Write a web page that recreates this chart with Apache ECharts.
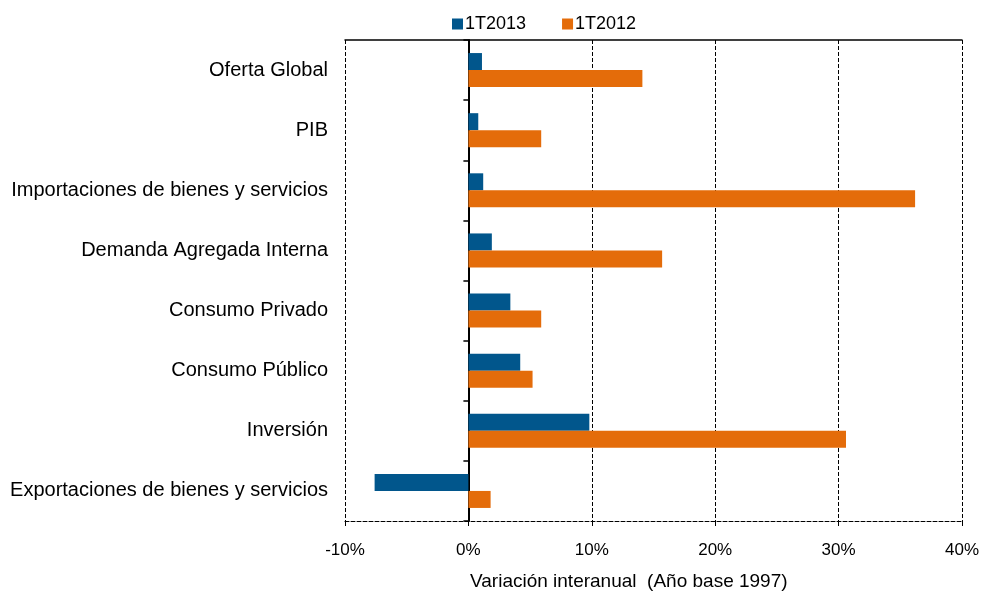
<!DOCTYPE html>
<html>
<head>
<meta charset="utf-8">
<script src="https://cdn.jsdelivr.net/npm/echarts@6/dist/echarts.min.js"></script>
<style>
  html, body { margin: 0; padding: 0; background: #fff; }
  #chart { width: 982px; height: 593px; }
</style>
</head>
<body>
<div id="chart"></div>
<script>
// categorias, de arriba hacia abajo
var categories = [
  "Oferta Global",
  "PIB",
  "Importaciones de bienes y servicios",
  "Demanda Agregada Interna",
  "Consumo Privado",
  "Consumo Público",
  "Inversión",
  "Exportaciones de bienes y servicios"
];
// variacion interanual en %
var serie2013 = [1.1, 0.8, 1.2, 1.9, 3.4, 4.2, 9.8, -7.6];
var serie2012 = [14.1, 5.9, 36.2, 15.7, 5.9, 5.2, 30.6, 1.8];
var xTicks = [-10, 0, 10, 20, 30, 40];

var font = "'Liberation Sans', Arial, sans-serif";
var chart = echarts.init(document.getElementById("chart"));

chart.setOption({
  animation: false,
  textStyle: { fontFamily: font },
  legend: {
    top: 10,
    left: 447,
    itemWidth: 11,
    itemHeight: 11,
    itemGap: 36,
    icon: "rect",
    textStyle: { fontSize: 18, color: "#000", fontFamily: font, padding: [0, 0, 0, -3] },
    data: ["1T2013", "1T2012"]
  },
  title: {
    text: "Variación interanual  (Año base 1997)",
    left: 465,
    top: 567,
    textStyle: { fontSize: 19, fontWeight: "normal", color: "#000", fontFamily: font }
  },
  grid: {
    left: 345,
    right: 20,
    top: 40,
    bottom: 72
  },
  xAxis: [
    {
      type: "value",
      min: xTicks[0],
      max: xTicks[xTicks.length - 1],
      interval: 10,
      axisLine: { show: true, onZero: false, lineStyle: { color: "#000", type: "dashed", width: 1 } },
      axisTick: { show: true, length: 5, lineStyle: { color: "#000" } },
      axisLabel: {
        fontSize: 17,
        color: "#000",
        margin: 21,
        fontFamily: font,
        formatter: function (v) { return v + "%"; }
      },
      splitLine: { show: true, lineStyle: { color: "#000", type: [4, 2], width: 1 } }
    },
    {
      type: "value",
      position: "top",
      min: xTicks[0],
      max: xTicks[xTicks.length - 1],
      interval: 10,
      axisLine: { show: true, onZero: false, lineStyle: { color: "#000", width: 1.5 } },
      axisTick: { show: false },
      axisLabel: { show: false },
      splitLine: { show: false }
    }
  ],
  yAxis: [
    {
      type: "category",
      inverse: true,
      data: categories,
      axisLine: { show: false, onZero: false },
      axisTick: { show: false },
      axisLabel: { fontSize: 20, color: "#000", margin: 17, padding: [10, 0, 0, 0], fontFamily: font },
      splitLine: { show: false }
    },
    {
      type: "category",
      inverse: true,
      position: "left",
      data: categories,
      axisLine: { show: true, onZero: true, lineStyle: { color: "#000", width: 2 } },
      axisTick: { show: true, length: 5, lineStyle: { color: "#000", width: 1.5 } },
      axisLabel: { show: false },
      splitLine: { show: false }
    }
  ],
  series: [
    {
      name: "1T2013",
      type: "bar",
      yAxisIndex: 0,
      data: serie2013,
      barWidth: 17,
      barGap: "0%",
      itemStyle: { color: "#01568C" }
    },
    {
      name: "1T2012",
      type: "bar",
      yAxisIndex: 0,
      data: serie2012,
      barWidth: 17,
      barGap: "0%",
      itemStyle: { color: "#E46C0A" }
    }
  ]
});
</script>
</body>
</html>
